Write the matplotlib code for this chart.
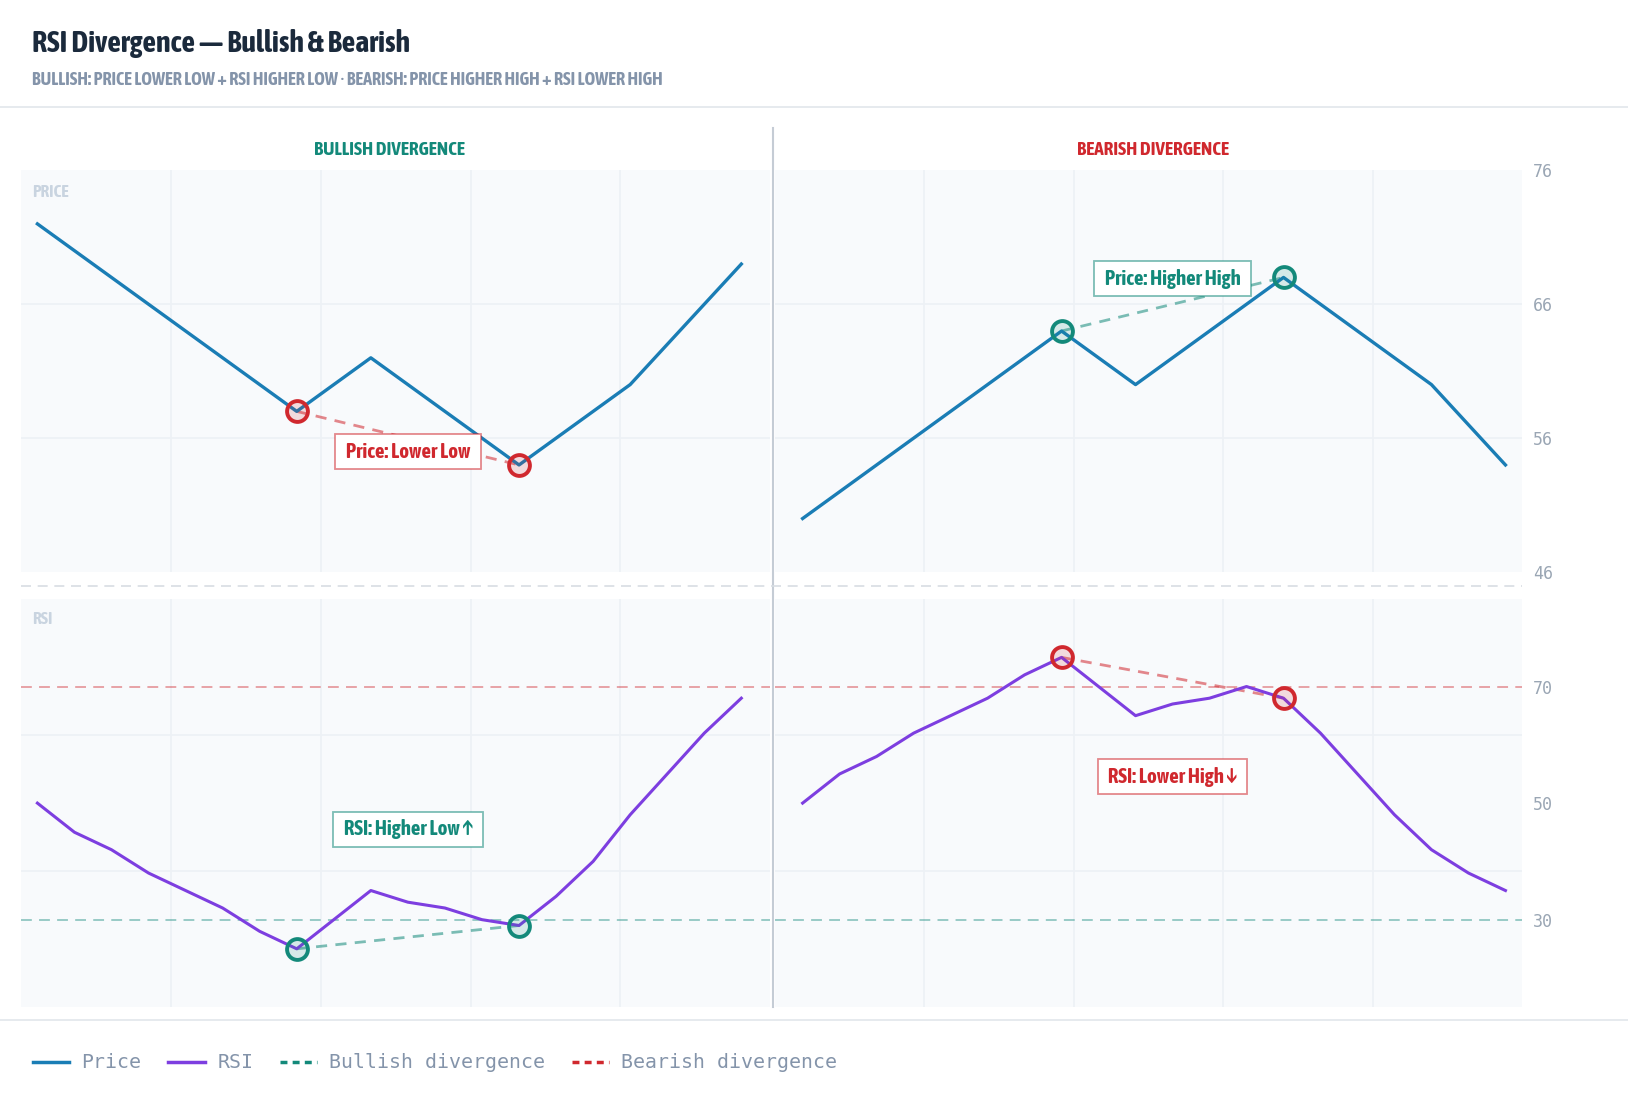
import matplotlib
matplotlib.use("Agg")
import matplotlib.pyplot as plt
from matplotlib import font_manager as fm
from matplotlib.lines import Line2D
from matplotlib.colors import to_rgba

# data
idx = list(range(20))
bull_price_idx = [0, 7, 9, 13, 16, 19]
bull_price = [72, 58, 62, 54, 60, 69]
bear_price_idx = [0, 7, 9, 13, 17, 19]
bear_price = [50, 64, 60, 68, 60, 54]
bull_rsi = [50, 45, 42, 38, 35, 32, 28, 25, 30, 35, 33, 32, 30, 29, 34, 40, 48, 55, 62, 68]
bear_rsi = [50, 55, 58, 62, 65, 68, 72, 75, 70, 65, 67, 68, 70, 68, 62, 55, 48, 42, 38, 35]
div_idx = [7, 13]
price_ticks = [46, 56, 66, 76]
rsi_ticks = [30, 50, 70]

BLUE = "#1a7db5"
PURPLE = "#7d3ee0"
TEAL = "#13897a"
RED = "#d0282e"
NAVY = "#1b2a3c"
GREY = "#8494aa"
BG = "#f8fafc"
GRID = "#edf1f5"


def pick_condensed():
    # narrow / condensed family that has a bold face
    cands = {}
    for f in fm.fontManager.ttflist:
        n = f.name
        if ("Condensed" in n or "Narrow" in n) and f.style == "normal":
            w = f.weight if isinstance(f.weight, int) else fm.weight_dict.get(f.weight, 400)
            cands.setdefault(n, set()).add(w)
    best, best_score = None, None
    for n, ws in cands.items():
        score = 0
        if 700 in ws:
            score += 10
        elif max(ws) >= 600:
            score += 6
        if "Extra" in n or "Ultra" in n:
            score -= 4
        if "Semi" in n:
            score -= 2
        if any(k in n for k in ("Light", "Thin", "Black", "Medium")):
            score -= 3
        if best_score is None or score > best_score:
            best, best_score = n, score
    if best is None:
        return "Roboto", "bold"
    ws = cands[best]
    wt = 700 if 700 in ws else max(ws)
    return best, wt


COND_NAME, COND_WEIGHT = pick_condensed()
COND = [COND_NAME, "DejaVu Sans"]
MONO = ["DejaVu Sans Mono"]

W, H = 1628, 1108
fig = plt.figure(figsize=(W / 100, H / 100), dpi=100)
fig.patch.set_facecolor("white")


def rect(x0, y0, x1, y1):
    return [x0 / W, 1 - y1 / H, (x1 - x0) / W, (y1 - y0) / H]


def add_line(x0, y0, x1, y1, **kw):
    fig.add_artist(Line2D([x0 / W, x1 / W], [1 - y0 / H, 1 - y1 / H],
                          transform=fig.transFigure, **kw))


def ctext(x, y, s, **kw):
    return fig.text(x / W, 1 - y / H, s, family=COND, weight=COND_WEIGHT, **kw)


# header
ctext(32, 43, "RSI Divergence — Bullish & Bearish", fontsize=21.5, color=NAVY, va="center")
ctext(32, 80, "BULLISH: PRICE LOWER LOW + RSI HIGHER LOW · BEARISH: PRICE HIGHER HIGH + RSI LOWER HIGH",
      fontsize=13.1, color=GREY, va="center")
add_line(0, 107, W, 107, color="#e2e6eb", lw=1.2)
add_line(0, 1020, W, 1020, color="#e2e6eb", lw=1.2)

xl_left = (-0.448, 19.785)
xl_right = (-0.76, 19.45)

axes = {
    ("bull", "price"): fig.add_axes(rect(20.8, 170.3, 770.4, 572.1)),
    ("bear", "price"): fig.add_axes(rect(774.5, 170.3, 1522.1, 572.1)),
    ("bull", "rsi"): fig.add_axes(rect(20.8, 599.1, 770.4, 1007.1)),
    ("bear", "rsi"): fig.add_axes(rect(774.5, 599.1, 1522.1, 1007.1)),
}

for (side, kind), ax in axes.items():
    ax.set_facecolor(BG)
    for s in ax.spines.values():
        s.set_visible(False)
    ax.set_xlim(*(xl_left if side == "bull" else xl_right))
    if kind == "price":
        ax.set_ylim(46, 76)
    else:
        ax.set_ylim(15, 85)
    ax.set_xticks([])
    for f in (0.2, 0.4, 0.6, 0.8):
        ax.plot([f, f], [0, 1], transform=ax.transAxes, color=GRID, lw=1.2, zorder=0)
    for f in (1 / 3, 2 / 3):
        ax.plot([0, 1], [f, f], transform=ax.transAxes, color=GRID, lw=1.2, zorder=0)
    if side == "bear":
        ax.yaxis.tick_right()
        ax.set_yticks(price_ticks if kind == "price" else rsi_ticks)
        ax.tick_params(axis="y", length=0, pad=8, labelsize=12, labelcolor="#9aa6b4")
        for lab in ax.get_yticklabels():
            lab.set_family(MONO)
    else:
        ax.set_yticks([])
    if kind == "rsi":
        ax.axhline(70, color=RED, alpha=0.45, lw=1.3, ls=(0, (6, 4)), zorder=1)
        ax.axhline(30, color=TEAL, alpha=0.45, lw=1.3, ls=(0, (6, 4)), zorder=1)


def divergence(ax, xs, ys, color):
    ax.plot(xs, ys, color=color, alpha=0.55, lw=2, ls=(0, (4, 3)), zorder=3)
    ax.plot(xs, ys, ls="none", marker="o", ms=15, mew=2.8, mec=color,
            mfc=to_rgba(color, 0.15), zorder=5)


def label_box(ax, x, y, text, color):
    ax.text(x, y, " " + text + " ", family=COND, weight=COND_WEIGHT,
            fontsize=15, color=color, ha="center", va="center", zorder=6,
            bbox=dict(boxstyle="square,pad=0.36", fc="white",
                      ec=to_rgba(color, 0.55), lw=1.3))


# bullish side
ax = axes[("bull", "price")]
ax.plot(bull_price_idx, bull_price, color=BLUE, lw=2.4, zorder=4)
divergence(ax, div_idx, [bull_price[bull_price_idx.index(i)] for i in div_idx], RED)
label_box(ax, 10, 55.0, "Price: Lower Low", RED)

ax = axes[("bull", "rsi")]
ax.plot(idx, bull_rsi, color=PURPLE, lw=2.2, zorder=4)
divergence(ax, div_idx, [bull_rsi[i] for i in div_idx], TEAL)
label_box(ax, 10, 45.5, "RSI: Higher Low ↑", TEAL)

# bearish side
ax = axes[("bear", "price")]
ax.plot(bear_price_idx, bear_price, color=BLUE, lw=2.4, zorder=4)
divergence(ax, div_idx, [bear_price[bear_price_idx.index(i)] for i in div_idx], TEAL)
label_box(ax, 10, 67.9, "Price: Higher High", TEAL)

ax = axes[("bear", "rsi")]
ax.plot(idx, bear_rsi, color=PURPLE, lw=2.2, zorder=4)
divergence(ax, div_idx, [bear_rsi[i] for i in div_idx], RED)
label_box(ax, 10, 54.5, "RSI: Lower High ↓", RED)

# panel titles and labels
ctext(389, 150, "BULLISH DIVERGENCE", fontsize=13.8, color=TEAL, ha="center", va="center")
ctext(1153, 150, "BEARISH DIVERGENCE", fontsize=13.8, color=RED, ha="center", va="center")
ctext(32, 192, "PRICE", fontsize=12.5, color="#c9d4e0", va="center")
ctext(32, 619, "RSI", fontsize=12.5, color="#c9d4e0", va="center")

# separators
add_line(772.5, 128, 772.5, 1007, color="#c5ccd5", lw=1.5)
add_line(20.8, 585.6, 1522, 585.6, color="#d8dde3", lw=1.2, ls=(0, (6, 4)))

# legend
handles = [
    Line2D([], [], color=BLUE, lw=2.5),
    Line2D([], [], color=PURPLE, lw=2.5),
    Line2D([], [], color=TEAL, lw=2.5, ls=(0, (2, 1.5))),
    Line2D([], [], color=RED, lw=2.5, ls=(0, (2, 1.5))),
]
labels = ["Price", "RSI", "Bullish divergence", "Bearish divergence"]
fig.legend(handles, labels, loc="center left", bbox_to_anchor=(0.009, 1 - 1063 / H),
           ncol=4, frameon=False, handlelength=1.85, handletextpad=0.62,
           columnspacing=1.35, prop={"family": MONO, "size": 14.3}, labelcolor=GREY)

fig.savefig("out.png", dpi=100, facecolor="white")
